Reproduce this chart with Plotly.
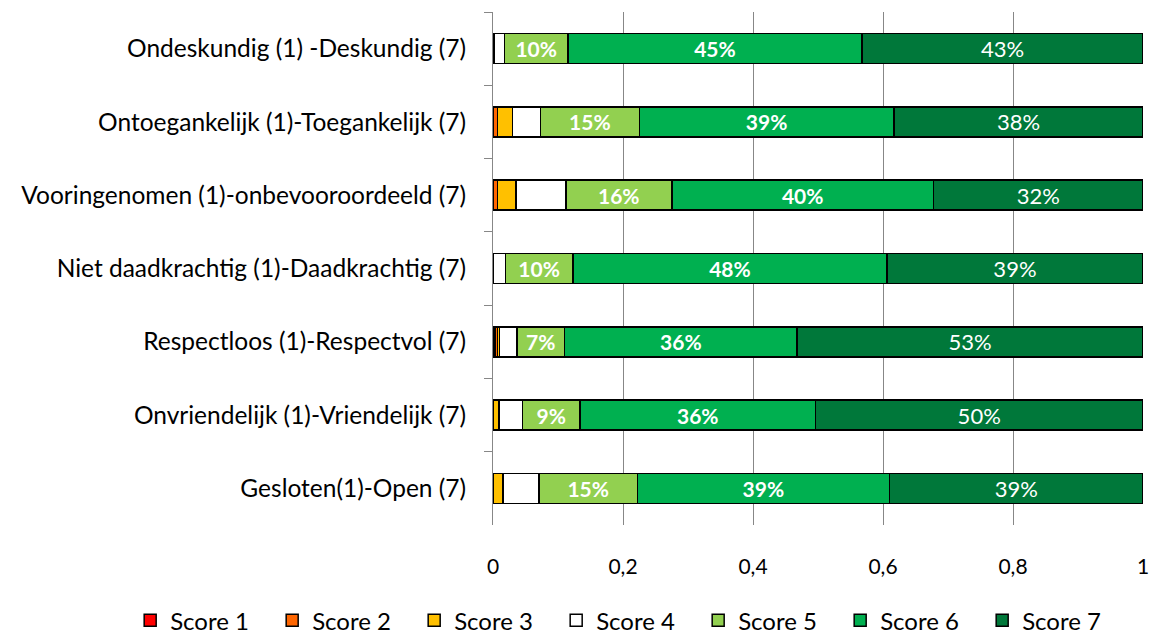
import plotly.graph_objects as go

categories = [
    "Ondeskundig (1) -Deskundig (7)",
    "Ontoegankelijk (1)-Toegankelijk (7)",
    "Vooringenomen (1)-onbevooroordeeld (7)",
    "Niet daadkrachtig (1)-Daadkrachtig (7)",
    "Respectloos (1)-Respectvol (7)",
    "Onvriendelijk (1)-Vriendelijk (7)",
    "Gesloten(1)-Open (7)",
]
score1 = [0.0, 0.0, 0.0, 0.0, 0.003, 0.0, 0.0]
score2 = [0.0, 0.007, 0.007, 0.0, 0.004, 0.0, 0.0]
score3 = [0.002, 0.023, 0.028, 0.001, 0.003, 0.009, 0.015]
score4 = [0.016, 0.043, 0.077, 0.018, 0.027, 0.036, 0.056]
score5 = [0.097, 0.152, 0.163, 0.104, 0.073, 0.089, 0.151]
score6 = [0.453, 0.392, 0.403, 0.483, 0.358, 0.362, 0.388]
score7 = [0.432, 0.383, 0.322, 0.394, 0.532, 0.504, 0.390]
series_names = ["Score 1", "Score 2", "Score 3", "Score 4", "Score 5", "Score 6", "Score 7"]
colors = ["#FF0000", "#FF6600", "#FFC000", "#FFFFFF", "#92D050", "#00B050", "#00783A"]
x_ticks = [0, 0.2, 0.4, 0.6, 0.8, 1]
x_ticktext = ["0", "0,2", "0,4", "0,6", "0,8", "1"]

FONT = "Lato, Calibri, sans-serif"
data = [score1, score2, score3, score4, score5, score6, score7]

W, H = 1152, 634
PLOT_L, PLOT_R = 493, 1143

fig = go.Figure()
for i, (name, vals, col) in enumerate(zip(series_names, data, colors)):
    kw = {}
    if i >= 4:
        tmpl = "<b>%{x:.0%}</b>" if i in (4, 5) else "%{x:.0%}"
        kw = dict(texttemplate=tmpl, textposition="inside", insidetextanchor="middle",
                  textangle=0, constraintext="none",
                  textfont=dict(color="white", size=21 if i in (4, 5) else 22, family=FONT))
    fig.add_trace(go.Bar(
        name=name, y=categories, x=vals, orientation="h",
        marker=dict(color=col, line=dict(color="black", width=1.5)),
        hoverinfo="x+name", **kw))

fig.update_layout(
    barmode="stack",
    bargap=0.59,
    width=W, height=H,
    margin=dict(l=0, r=W - PLOT_R, t=12, b=109, autoexpand=False),
    plot_bgcolor="white", paper_bgcolor="white",
    font=dict(family=FONT, size=24, color="black"),
    legend=dict(orientation="h", xref="container", x=0.113, xanchor="left",
                yref="container", y=0.021, yanchor="middle",
                font=dict(size=24), traceorder="normal",
                entrywidth=97, entrywidthmode="pixels",
                itemclick=False),
)
fig.update_xaxes(domain=[PLOT_L / PLOT_R, 1], range=[0, 1],
                 tickvals=x_ticks, ticktext=x_ticktext,
                 showgrid=True, gridcolor="#878787", gridwidth=1,
                 zeroline=False, showline=False, ticks="",
                 tickfont=dict(size=21), ticklabelstandoff=27)
fig.update_yaxes(autorange="reversed", showline=True, linecolor="#878787", linewidth=1,
                 ticks="outside", tickson="boundaries", ticklen=8, tickcolor="#878787",
                 tickfont=dict(size=24.5), ticklabelstandoff=21)

fig.write_html("out.html", config={"displayModeBar": False},
               post_script="document.body.style.margin='0';document.body.style.overflow='hidden';")
